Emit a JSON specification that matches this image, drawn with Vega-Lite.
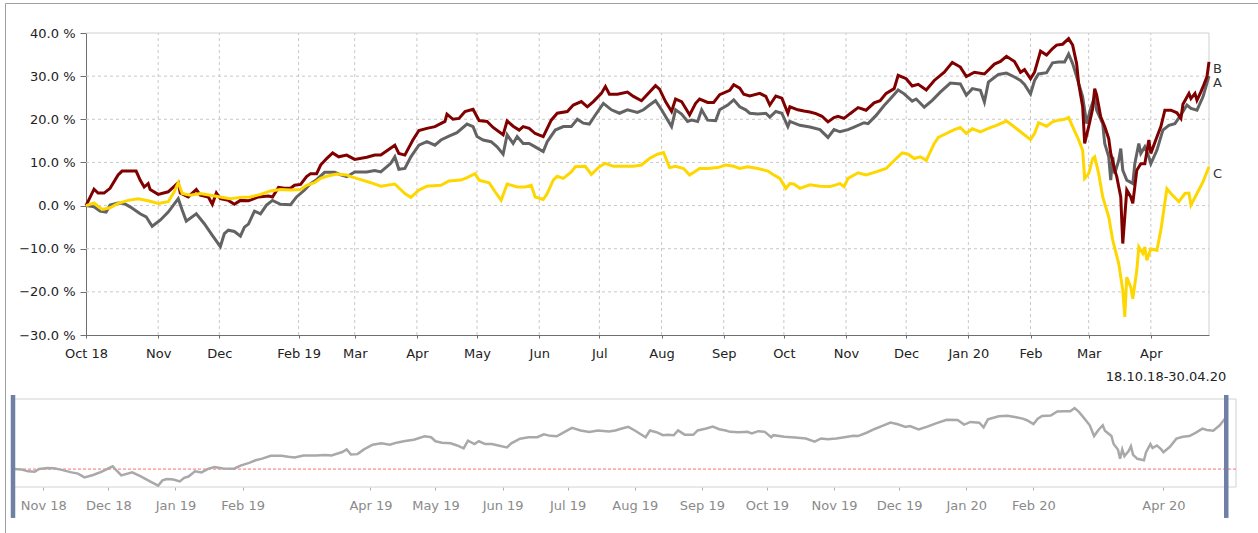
{
  "$schema": "https://vega.github.io/schema/vega-lite/v6.json",
  "width": 1253,
  "height": 530,
  "padding": {"left": 5, "top": 3, "right": 0, "bottom": 0},
  "autosize": {"type": "none"},
  "background": "white",
  "config": {
    "font": "DejaVu Sans",
    "view": {"stroke": "#a0a0a0", "strokeWidth": 1},
    "axis": {"labelFont": "DejaVu Sans", "titleFont": "DejaVu Sans"},
    "text": {"font": "DejaVu Sans"}
  },
  "datasets": {
    "perf": [
      {"d":"2018-10-18","s":"A","v":0},{"d":"2018-10-22","s":"A","v":-0.3},{"d":"2018-10-25","s":"A","v":-1.3},{"d":"2018-10-28","s":"A","v":-1.5},{"d":"2018-10-30","s":"A","v":0.1},{"d":"2018-11-03","s":"A","v":0.6},{"d":"2018-11-06","s":"A","v":0.5},{"d":"2018-11-09","s":"A","v":-0.3},{"d":"2018-11-14","s":"A","v":-1.9},{"d":"2018-11-17","s":"A","v":-2.6},{"d":"2018-11-20","s":"A","v":-4.8},{"d":"2018-11-24","s":"A","v":-3.4},{"d":"2018-11-28","s":"A","v":-1.5},{"d":"2018-12-03","s":"A","v":1.6},{"d":"2018-12-05","s":"A","v":-1.1},{"d":"2018-12-07","s":"A","v":-3.6},{"d":"2018-12-12","s":"A","v":-1.9},{"d":"2018-12-16","s":"A","v":-4.2},{"d":"2018-12-20","s":"A","v":-6.9},{"d":"2018-12-24","s":"A","v":-9.5},{"d":"2018-12-26","s":"A","v":-6.5},{"d":"2018-12-28","s":"A","v":-5.7},{"d":"2018-12-31","s":"A","v":-6.0},
      {"d":"2019-01-03","s":"A","v":-7.1},{"d":"2019-01-05","s":"A","v":-5.0},{"d":"2019-01-07","s":"A","v":-4.3},{"d":"2019-01-10","s":"A","v":-1.3},{"d":"2019-01-13","s":"A","v":-1.9},{"d":"2019-01-16","s":"A","v":0.1},{"d":"2019-01-19","s":"A","v":1.2},{"d":"2019-01-23","s":"A","v":0.3},{"d":"2019-01-28","s":"A","v":0.2},{"d":"2019-01-31","s":"A","v":2.0},{"d":"2019-02-04","s":"A","v":3.6},{"d":"2019-02-07","s":"A","v":5.1},{"d":"2019-02-10","s":"A","v":6.0},{"d":"2019-02-14","s":"A","v":7.7},{"d":"2019-02-19","s":"A","v":7.7},{"d":"2019-02-22","s":"A","v":7.1},{"d":"2019-02-25","s":"A","v":6.7},{"d":"2019-03-01","s":"A","v":7.8},{"d":"2019-03-07","s":"A","v":7.8},{"d":"2019-03-11","s":"A","v":8.1},{"d":"2019-03-14","s":"A","v":7.8},{"d":"2019-03-19","s":"A","v":9.8},{"d":"2019-03-21","s":"A","v":11.3},{"d":"2019-03-23","s":"A","v":8.4},{"d":"2019-03-26","s":"A","v":8.6},{"d":"2019-03-29","s":"A","v":11.3},
      {"d":"2019-04-02","s":"A","v":14.0},{"d":"2019-04-06","s":"A","v":14.8},{"d":"2019-04-10","s":"A","v":14.0},{"d":"2019-04-13","s":"A","v":15.2},{"d":"2019-04-17","s":"A","v":16.1},{"d":"2019-04-21","s":"A","v":16.9},{"d":"2019-04-26","s":"A","v":18.9},{"d":"2019-04-29","s":"A","v":18.3},{"d":"2019-05-01","s":"A","v":16.0},{"d":"2019-05-04","s":"A","v":15.2},{"d":"2019-05-08","s":"A","v":14.8},{"d":"2019-05-11","s":"A","v":13.6},{"d":"2019-05-14","s":"A","v":11.9},{"d":"2019-05-16","s":"A","v":16.4},{"d":"2019-05-19","s":"A","v":14.4},{"d":"2019-05-21","s":"A","v":16.0},{"d":"2019-05-24","s":"A","v":14.4},{"d":"2019-05-27","s":"A","v":14.4},{"d":"2019-05-30","s":"A","v":13.6},{"d":"2019-06-03","s":"A","v":12.5},{"d":"2019-06-05","s":"A","v":14.8},{"d":"2019-06-09","s":"A","v":17.5},{"d":"2019-06-13","s":"A","v":18.3},{"d":"2019-06-17","s":"A","v":18.3},{"d":"2019-06-20","s":"A","v":20.0},{"d":"2019-06-23","s":"A","v":19.1},{"d":"2019-06-26","s":"A","v":18.9},{"d":"2019-06-29","s":"A","v":21.0},
      {"d":"2019-07-03","s":"A","v":23.7},{"d":"2019-07-07","s":"A","v":22.2},{"d":"2019-07-11","s":"A","v":21.4},{"d":"2019-07-15","s":"A","v":22.2},{"d":"2019-07-20","s":"A","v":21.6},{"d":"2019-07-23","s":"A","v":22.2},{"d":"2019-07-26","s":"A","v":23.3},{"d":"2019-07-29","s":"A","v":24.3},{"d":"2019-08-01","s":"A","v":22.2},{"d":"2019-08-06","s":"A","v":18.3},{"d":"2019-08-08","s":"A","v":22.2},{"d":"2019-08-11","s":"A","v":21.2},{"d":"2019-08-14","s":"A","v":19.5},{"d":"2019-08-16","s":"A","v":19.8},{"d":"2019-08-19","s":"A","v":19.5},{"d":"2019-08-21","s":"A","v":22.2},{"d":"2019-08-24","s":"A","v":19.8},{"d":"2019-08-28","s":"A","v":19.7},{"d":"2019-08-30","s":"A","v":22.2},{"d":"2019-09-03","s":"A","v":23.3},{"d":"2019-09-06","s":"A","v":24.5},{"d":"2019-09-09","s":"A","v":22.9},{"d":"2019-09-12","s":"A","v":22.2},{"d":"2019-09-14","s":"A","v":21.4},{"d":"2019-09-18","s":"A","v":21.2},{"d":"2019-09-22","s":"A","v":21.4},{"d":"2019-09-24","s":"A","v":20.5},{"d":"2019-09-27","s":"A","v":21.8},{"d":"2019-09-30","s":"A","v":21.4},
      {"d":"2019-10-03","s":"A","v":18.3},{"d":"2019-10-04","s":"A","v":19.5},{"d":"2019-10-09","s":"A","v":18.6},{"d":"2019-10-14","s":"A","v":18.2},{"d":"2019-10-19","s":"A","v":17.6},{"d":"2019-10-23","s":"A","v":15.8},{"d":"2019-10-26","s":"A","v":17.6},{"d":"2019-10-29","s":"A","v":17.1},{"d":"2019-11-02","s":"A","v":17.6},{"d":"2019-11-05","s":"A","v":18.2},{"d":"2019-11-10","s":"A","v":19.2},{"d":"2019-11-12","s":"A","v":19.0},{"d":"2019-11-16","s":"A","v":20.9},{"d":"2019-11-20","s":"A","v":23.2},{"d":"2019-11-23","s":"A","v":24.7},{"d":"2019-11-27","s":"A","v":26.8},{"d":"2019-11-30","s":"A","v":25.9},{"d":"2019-12-04","s":"A","v":24.2},{"d":"2019-12-06","s":"A","v":24.7},{"d":"2019-12-10","s":"A","v":22.8},{"d":"2019-12-14","s":"A","v":24.4},{"d":"2019-12-18","s":"A","v":26.3},{"d":"2019-12-23","s":"A","v":28.4},{"d":"2019-12-28","s":"A","v":28.2},{"d":"2019-12-31","s":"A","v":25.6},
      {"d":"2020-01-03","s":"A","v":27.1},{"d":"2020-01-07","s":"A","v":26.7},{"d":"2020-01-09","s":"A","v":24.0},{"d":"2020-01-11","s":"A","v":28.6},{"d":"2020-01-16","s":"A","v":30.4},{"d":"2020-01-20","s":"A","v":30.7},{"d":"2020-01-24","s":"A","v":29.8},{"d":"2020-01-27","s":"A","v":29.0},{"d":"2020-01-29","s":"A","v":28.1},{"d":"2020-02-01","s":"A","v":25.9},{"d":"2020-02-03","s":"A","v":29.0},{"d":"2020-02-05","s":"A","v":30.5},{"d":"2020-02-09","s":"A","v":30.8},{"d":"2020-02-12","s":"A","v":33.1},{"d":"2020-02-15","s":"A","v":33.3},{"d":"2020-02-18","s":"A","v":33.3},{"d":"2020-02-20","s":"A","v":35.1},{"d":"2020-02-22","s":"A","v":32.9},{"d":"2020-02-24","s":"A","v":29.9},{"d":"2020-02-27","s":"A","v":25.2},{"d":"2020-02-29","s":"A","v":19.0},{"d":"2020-03-02","s":"A","v":22.5},{"d":"2020-03-04","s":"A","v":25.2},{"d":"2020-03-05","s":"A","v":22.1},{"d":"2020-03-08","s":"A","v":19.0},{"d":"2020-03-09","s":"A","v":14.4},{"d":"2020-03-11","s":"A","v":11.3},{"d":"2020-03-12","s":"A","v":5.9},{"d":"2020-03-13","s":"A","v":11.3},{"d":"2020-03-14","s":"A","v":7.4},{"d":"2020-03-16","s":"A","v":10.5},{"d":"2020-03-17","s":"A","v":13.2},{"d":"2020-03-18","s":"A","v":8.2},{"d":"2020-03-20","s":"A","v":5.9},{"d":"2020-03-23","s":"A","v":5.1},{"d":"2020-03-24","s":"A","v":9.7},{"d":"2020-03-26","s":"A","v":14.4},{"d":"2020-03-27","s":"A","v":12.1},{"d":"2020-03-29","s":"A","v":13.6},{"d":"2020-03-31","s":"A","v":11.3},{"d":"2020-04-01","s":"A","v":9.7},{"d":"2020-04-04","s":"A","v":12.8},{"d":"2020-04-07","s":"A","v":17.5},{"d":"2020-04-10","s":"A","v":18.6},{"d":"2020-04-13","s":"A","v":19.0},{"d":"2020-04-16","s":"A","v":21.0},{"d":"2020-04-19","s":"A","v":23.3},{"d":"2020-04-21","s":"A","v":22.5},{"d":"2020-04-24","s":"A","v":22.1},{"d":"2020-04-27","s":"A","v":25.2},{"d":"2020-04-30","s":"A","v":30.0},

      {"d":"2018-10-18","s":"B","v":0},{"d":"2018-10-22","s":"B","v":3.8},{"d":"2018-10-24","s":"B","v":2.9},{"d":"2018-10-27","s":"B","v":2.9},{"d":"2018-10-30","s":"B","v":4.0},{"d":"2018-11-03","s":"B","v":7.1},{"d":"2018-11-05","s":"B","v":8.0},{"d":"2018-11-12","s":"B","v":8.0},{"d":"2018-11-14","s":"B","v":5.9},{"d":"2018-11-16","s":"B","v":4.3},{"d":"2018-11-18","s":"B","v":5.1},{"d":"2018-11-19","s":"B","v":3.7},{"d":"2018-11-23","s":"B","v":2.6},{"d":"2018-11-28","s":"B","v":3.2},{"d":"2018-12-03","s":"B","v":5.3},{"d":"2018-12-04","s":"B","v":2.9},{"d":"2018-12-08","s":"B","v":2.0},{"d":"2018-12-12","s":"B","v":3.7},{"d":"2018-12-14","s":"B","v":2.4},{"d":"2018-12-18","s":"B","v":2.0},{"d":"2018-12-20","s":"B","v":0.3},{"d":"2018-12-22","s":"B","v":2.9},{"d":"2018-12-24","s":"B","v":1.6},{"d":"2018-12-28","s":"B","v":1.2},{"d":"2018-12-31","s":"B","v":0.3},
      {"d":"2019-01-03","s":"B","v":1.2},{"d":"2019-01-07","s":"B","v":1.1},{"d":"2019-01-12","s":"B","v":2.0},{"d":"2019-01-17","s":"B","v":2.2},{"d":"2019-01-19","s":"B","v":2.0},{"d":"2019-01-22","s":"B","v":4.2},{"d":"2019-01-25","s":"B","v":4.0},{"d":"2019-01-28","s":"B","v":4.0},{"d":"2019-01-30","s":"B","v":4.7},{"d":"2019-02-02","s":"B","v":4.9},{"d":"2019-02-05","s":"B","v":6.7},{"d":"2019-02-07","s":"B","v":7.4},{"d":"2019-02-10","s":"B","v":7.4},{"d":"2019-02-12","s":"B","v":9.4},{"d":"2019-02-15","s":"B","v":10.9},{"d":"2019-02-18","s":"B","v":12.2},{"d":"2019-02-21","s":"B","v":11.3},{"d":"2019-02-25","s":"B","v":11.7},{"d":"2019-03-01","s":"B","v":10.7},{"d":"2019-03-07","s":"B","v":11.2},{"d":"2019-03-11","s":"B","v":11.7},{"d":"2019-03-14","s":"B","v":11.7},{"d":"2019-03-21","s":"B","v":14.0},{"d":"2019-03-23","s":"B","v":12.1},{"d":"2019-03-26","s":"B","v":11.7},{"d":"2019-03-30","s":"B","v":15.2},
      {"d":"2019-04-02","s":"B","v":17.4},{"d":"2019-04-06","s":"B","v":17.9},{"d":"2019-04-10","s":"B","v":18.3},{"d":"2019-04-15","s":"B","v":19.5},{"d":"2019-04-16","s":"B","v":21.2},{"d":"2019-04-19","s":"B","v":20.0},{"d":"2019-04-22","s":"B","v":20.2},{"d":"2019-04-25","s":"B","v":21.8},{"d":"2019-04-29","s":"B","v":22.3},{"d":"2019-05-02","s":"B","v":19.7},{"d":"2019-05-06","s":"B","v":19.5},{"d":"2019-05-09","s":"B","v":18.1},{"d":"2019-05-14","s":"B","v":16.4},{"d":"2019-05-16","s":"B","v":19.6},{"d":"2019-05-19","s":"B","v":18.4},{"d":"2019-05-22","s":"B","v":17.5},{"d":"2019-05-24","s":"B","v":18.3},{"d":"2019-05-27","s":"B","v":17.9},{"d":"2019-05-30","s":"B","v":16.7},{"d":"2019-06-03","s":"B","v":16.0},{"d":"2019-06-07","s":"B","v":19.8},{"d":"2019-06-10","s":"B","v":21.4},{"d":"2019-06-15","s":"B","v":21.8},{"d":"2019-06-18","s":"B","v":23.3},{"d":"2019-06-22","s":"B","v":24.1},{"d":"2019-06-25","s":"B","v":22.9},{"d":"2019-06-28","s":"B","v":24.1},
      {"d":"2019-07-02","s":"B","v":26.0},{"d":"2019-07-04","s":"B","v":27.6},{"d":"2019-07-06","s":"B","v":25.8},{"d":"2019-07-10","s":"B","v":25.8},{"d":"2019-07-15","s":"B","v":26.3},{"d":"2019-07-18","s":"B","v":25.3},{"d":"2019-07-22","s":"B","v":24.3},{"d":"2019-07-25","s":"B","v":25.8},{"d":"2019-07-29","s":"B","v":27.8},{"d":"2019-07-31","s":"B","v":27.0},{"d":"2019-08-03","s":"B","v":24.1},{"d":"2019-08-06","s":"B","v":21.8},{"d":"2019-08-08","s":"B","v":24.7},{"d":"2019-08-11","s":"B","v":24.1},{"d":"2019-08-14","s":"B","v":21.8},{"d":"2019-08-15","s":"B","v":21.0},{"d":"2019-08-18","s":"B","v":23.7},{"d":"2019-08-20","s":"B","v":24.7},{"d":"2019-08-24","s":"B","v":23.9},{"d":"2019-08-27","s":"B","v":23.9},{"d":"2019-08-30","s":"B","v":25.7},{"d":"2019-09-04","s":"B","v":26.7},{"d":"2019-09-06","s":"B","v":28.0},{"d":"2019-09-09","s":"B","v":27.2},{"d":"2019-09-11","s":"B","v":25.8},{"d":"2019-09-14","s":"B","v":25.4},{"d":"2019-09-19","s":"B","v":26.0},{"d":"2019-09-22","s":"B","v":25.3},{"d":"2019-09-24","s":"B","v":23.3},{"d":"2019-09-27","s":"B","v":25.4},{"d":"2019-09-30","s":"B","v":24.9},
      {"d":"2019-10-03","s":"B","v":21.4},{"d":"2019-10-04","s":"B","v":22.9},{"d":"2019-10-08","s":"B","v":22.2},{"d":"2019-10-11","s":"B","v":21.9},{"d":"2019-10-14","s":"B","v":21.7},{"d":"2019-10-17","s":"B","v":21.3},{"d":"2019-10-20","s":"B","v":20.7},{"d":"2019-10-23","s":"B","v":19.4},{"d":"2019-10-26","s":"B","v":20.4},{"d":"2019-10-28","s":"B","v":20.7},{"d":"2019-10-31","s":"B","v":20.2},{"d":"2019-11-03","s":"B","v":21.3},{"d":"2019-11-07","s":"B","v":22.7},{"d":"2019-11-11","s":"B","v":22.1},{"d":"2019-11-15","s":"B","v":23.8},{"d":"2019-11-18","s":"B","v":24.3},{"d":"2019-11-21","s":"B","v":26.0},{"d":"2019-11-25","s":"B","v":27.1},{"d":"2019-11-27","s":"B","v":30.2},{"d":"2019-12-01","s":"B","v":29.4},{"d":"2019-12-04","s":"B","v":27.7},{"d":"2019-12-07","s":"B","v":28.1},{"d":"2019-12-11","s":"B","v":26.8},{"d":"2019-12-15","s":"B","v":29.0},{"d":"2019-12-20","s":"B","v":30.9},{"d":"2019-12-24","s":"B","v":33.2},{"d":"2019-12-28","s":"B","v":32.1},{"d":"2019-12-31","s":"B","v":29.9},
      {"d":"2020-01-04","s":"B","v":30.9},{"d":"2020-01-09","s":"B","v":30.5},{"d":"2020-01-14","s":"B","v":32.8},{"d":"2020-01-17","s":"B","v":33.4},{"d":"2020-01-20","s":"B","v":34.6},{"d":"2020-01-24","s":"B","v":33.4},{"d":"2020-01-27","s":"B","v":30.9},{"d":"2020-01-29","s":"B","v":31.5},{"d":"2020-02-01","s":"B","v":29.4},{"d":"2020-02-03","s":"B","v":30.9},{"d":"2020-02-06","s":"B","v":35.8},{"d":"2020-02-09","s":"B","v":34.9},{"d":"2020-02-12","s":"B","v":36.4},{"d":"2020-02-14","s":"B","v":37.2},{"d":"2020-02-17","s":"B","v":37.4},{"d":"2020-02-20","s":"B","v":38.7},{"d":"2020-02-22","s":"B","v":37.2},{"d":"2020-02-24","s":"B","v":32.9},{"d":"2020-02-25","s":"B","v":28.3},{"d":"2020-02-27","s":"B","v":22.9},{"d":"2020-02-28","s":"B","v":14.4},{"d":"2020-03-01","s":"B","v":18.3},{"d":"2020-03-03","s":"B","v":22.5},{"d":"2020-03-04","s":"B","v":27.1},{"d":"2020-03-05","s":"B","v":25.6},{"d":"2020-03-07","s":"B","v":20.6},{"d":"2020-03-09","s":"B","v":18.3},{"d":"2020-03-11","s":"B","v":15.5},{"d":"2020-03-12","s":"B","v":12.1},{"d":"2020-03-14","s":"B","v":8.2},{"d":"2020-03-15","s":"B","v":6.7},{"d":"2020-03-17","s":"B","v":2.0},{"d":"2020-03-18","s":"B","v":-8.8},{"d":"2020-03-19","s":"B","v":-2.6},{"d":"2020-03-20","s":"B","v":3.6},{"d":"2020-03-22","s":"B","v":2.0},{"d":"2020-03-23","s":"B","v":0.5},{"d":"2020-03-25","s":"B","v":8.2},{"d":"2020-03-27","s":"B","v":9.7},{"d":"2020-03-29","s":"B","v":9.7},{"d":"2020-03-31","s":"B","v":15.2},{"d":"2020-04-01","s":"B","v":12.1},{"d":"2020-04-04","s":"B","v":15.9},{"d":"2020-04-06","s":"B","v":18.3},{"d":"2020-04-08","s":"B","v":22.1},{"d":"2020-04-11","s":"B","v":22.1},{"d":"2020-04-14","s":"B","v":21.5},{"d":"2020-04-16","s":"B","v":20.2},{"d":"2020-04-17","s":"B","v":23.5},{"d":"2020-04-20","s":"B","v":26.0},{"d":"2020-04-21","s":"B","v":24.8},{"d":"2020-04-23","s":"B","v":26.0},{"d":"2020-04-24","s":"B","v":24.4},{"d":"2020-04-26","s":"B","v":26.4},{"d":"2020-04-27","s":"B","v":27.5},{"d":"2020-04-29","s":"B","v":29.9},{"d":"2020-04-30","s":"B","v":33.3},

      {"d":"2018-10-18","s":"C","v":0},{"d":"2018-10-22","s":"C","v":0.6},{"d":"2018-10-26","s":"C","v":-0.9},{"d":"2018-10-30","s":"C","v":-0.5},{"d":"2018-11-03","s":"C","v":0.5},{"d":"2018-11-08","s":"C","v":1.2},{"d":"2018-11-13","s":"C","v":1.6},{"d":"2018-11-18","s":"C","v":1.1},{"d":"2018-11-23","s":"C","v":0.5},{"d":"2018-11-28","s":"C","v":0.9},{"d":"2018-12-01","s":"C","v":3.2},{"d":"2018-12-03","s":"C","v":5.3},{"d":"2018-12-05","s":"C","v":2.8},{"d":"2018-12-09","s":"C","v":2.4},{"d":"2018-12-14","s":"C","v":2.8},{"d":"2018-12-19","s":"C","v":2.4},{"d":"2018-12-24","s":"C","v":2.0},{"d":"2018-12-29","s":"C","v":1.6},
      {"d":"2019-01-03","s":"C","v":1.9},{"d":"2019-01-08","s":"C","v":2.0},{"d":"2019-01-13","s":"C","v":2.6},{"d":"2019-01-18","s":"C","v":3.4},{"d":"2019-01-23","s":"C","v":3.7},{"d":"2019-01-28","s":"C","v":3.6},{"d":"2019-02-02","s":"C","v":3.7},{"d":"2019-02-05","s":"C","v":4.7},{"d":"2019-02-09","s":"C","v":5.3},{"d":"2019-02-12","s":"C","v":6.3},{"d":"2019-02-15","s":"C","v":6.8},{"d":"2019-02-20","s":"C","v":7.3},{"d":"2019-02-25","s":"C","v":7.1},{"d":"2019-02-27","s":"C","v":6.7},{"d":"2019-03-04","s":"C","v":6.0},{"d":"2019-03-09","s":"C","v":5.3},{"d":"2019-03-14","s":"C","v":4.5},{"d":"2019-03-21","s":"C","v":5.0},{"d":"2019-03-26","s":"C","v":2.8},{"d":"2019-03-29","s":"C","v":1.9},
      {"d":"2019-04-02","s":"C","v":3.6},{"d":"2019-04-06","s":"C","v":4.5},{"d":"2019-04-13","s":"C","v":4.7},{"d":"2019-04-17","s":"C","v":5.7},{"d":"2019-04-23","s":"C","v":5.9},{"d":"2019-04-26","s":"C","v":6.5},{"d":"2019-04-30","s":"C","v":7.4},{"d":"2019-05-02","s":"C","v":5.9},{"d":"2019-05-07","s":"C","v":5.3},{"d":"2019-05-10","s":"C","v":3.2},{"d":"2019-05-13","s":"C","v":1.2},{"d":"2019-05-16","s":"C","v":5.0},{"d":"2019-05-21","s":"C","v":4.3},{"d":"2019-05-25","s":"C","v":4.3},{"d":"2019-05-28","s":"C","v":4.7},{"d":"2019-05-30","s":"C","v":2.0},{"d":"2019-06-03","s":"C","v":1.4},{"d":"2019-06-05","s":"C","v":2.8},{"d":"2019-06-08","s":"C","v":5.9},{"d":"2019-06-10","s":"C","v":6.8},{"d":"2019-06-13","s":"C","v":6.3},{"d":"2019-06-17","s":"C","v":7.8},{"d":"2019-06-19","s":"C","v":9.0},{"d":"2019-06-24","s":"C","v":9.1},{"d":"2019-06-27","s":"C","v":7.2},
      {"d":"2019-07-01","s":"C","v":9.0},{"d":"2019-07-04","s":"C","v":9.8},{"d":"2019-07-08","s":"C","v":9.1},{"d":"2019-07-13","s":"C","v":9.1},{"d":"2019-07-18","s":"C","v":9.1},{"d":"2019-07-22","s":"C","v":9.4},{"d":"2019-07-26","s":"C","v":10.9},{"d":"2019-07-30","s":"C","v":11.9},{"d":"2019-08-02","s":"C","v":12.3},{"d":"2019-08-05","s":"C","v":8.8},{"d":"2019-08-08","s":"C","v":9.1},{"d":"2019-08-12","s":"C","v":8.6},{"d":"2019-08-15","s":"C","v":7.1},{"d":"2019-08-20","s":"C","v":8.6},{"d":"2019-08-24","s":"C","v":8.6},{"d":"2019-08-29","s":"C","v":8.8},{"d":"2019-09-02","s":"C","v":9.4},{"d":"2019-09-06","s":"C","v":9.1},{"d":"2019-09-09","s":"C","v":8.6},{"d":"2019-09-13","s":"C","v":9.0},{"d":"2019-09-18","s":"C","v":8.6},{"d":"2019-09-23","s":"C","v":8.0},{"d":"2019-09-26","s":"C","v":7.1},{"d":"2019-09-29","s":"C","v":6.3},
      {"d":"2019-10-02","s":"C","v":4.0},{"d":"2019-10-04","s":"C","v":5.1},{"d":"2019-10-06","s":"C","v":5.0},{"d":"2019-10-09","s":"C","v":4.0},{"d":"2019-10-14","s":"C","v":4.8},{"d":"2019-10-19","s":"C","v":4.5},{"d":"2019-10-24","s":"C","v":4.4},{"d":"2019-10-29","s":"C","v":5.1},{"d":"2019-10-31","s":"C","v":4.4},{"d":"2019-11-02","s":"C","v":6.3},{"d":"2019-11-07","s":"C","v":7.6},{"d":"2019-11-11","s":"C","v":7.1},{"d":"2019-11-16","s":"C","v":7.8},{"d":"2019-11-21","s":"C","v":8.6},{"d":"2019-11-26","s":"C","v":10.9},{"d":"2019-11-29","s":"C","v":12.2},{"d":"2019-12-02","s":"C","v":11.9},{"d":"2019-12-05","s":"C","v":10.9},{"d":"2019-12-08","s":"C","v":11.3},{"d":"2019-12-11","s":"C","v":10.5},{"d":"2019-12-15","s":"C","v":14.4},{"d":"2019-12-17","s":"C","v":15.8},{"d":"2019-12-21","s":"C","v":16.7},{"d":"2019-12-25","s":"C","v":17.6},{"d":"2019-12-28","s":"C","v":18.1},{"d":"2019-12-31","s":"C","v":16.7},
      {"d":"2020-01-03","s":"C","v":17.8},{"d":"2020-01-07","s":"C","v":17.1},{"d":"2020-01-11","s":"C","v":17.9},{"d":"2020-01-15","s":"C","v":18.6},{"d":"2020-01-20","s":"C","v":19.6},{"d":"2020-01-24","s":"C","v":18.2},{"d":"2020-01-27","s":"C","v":17.1},{"d":"2020-02-01","s":"C","v":15.3},{"d":"2020-02-03","s":"C","v":16.7},{"d":"2020-02-05","s":"C","v":19.2},{"d":"2020-02-09","s":"C","v":18.4},{"d":"2020-02-12","s":"C","v":19.4},{"d":"2020-02-15","s":"C","v":19.8},{"d":"2020-02-18","s":"C","v":20.0},{"d":"2020-02-20","s":"C","v":20.4},{"d":"2020-02-22","s":"C","v":18.3},{"d":"2020-02-25","s":"C","v":15.2},{"d":"2020-02-27","s":"C","v":12.8},{"d":"2020-02-28","s":"C","v":6.3},{"d":"2020-03-01","s":"C","v":7.4},{"d":"2020-03-03","s":"C","v":10.9},{"d":"2020-03-04","s":"C","v":11.3},{"d":"2020-03-06","s":"C","v":7.4},{"d":"2020-03-08","s":"C","v":2.0},{"d":"2020-03-11","s":"C","v":-2.6},{"d":"2020-03-13","s":"C","v":-8.0},{"d":"2020-03-16","s":"C","v":-13.5},{"d":"2020-03-18","s":"C","v":-19.6},{"d":"2020-03-19","s":"C","v":-25.8},{"d":"2020-03-20","s":"C","v":-16.6},{"d":"2020-03-22","s":"C","v":-18.9},{"d":"2020-03-23","s":"C","v":-21.6},{"d":"2020-03-25","s":"C","v":-15.0},{"d":"2020-03-26","s":"C","v":-9.6},{"d":"2020-03-28","s":"C","v":-11.1},{"d":"2020-03-29","s":"C","v":-9.6},{"d":"2020-03-30","s":"C","v":-12.7},{"d":"2020-04-01","s":"C","v":-10.0},{"d":"2020-04-04","s":"C","v":-10.4},{"d":"2020-04-06","s":"C","v":-5.7},{"d":"2020-04-09","s":"C","v":3.9},{"d":"2020-04-11","s":"C","v":2.8},{"d":"2020-04-15","s":"C","v":0.9},{"d":"2020-04-18","s":"C","v":2.8},{"d":"2020-04-20","s":"C","v":2.9},{"d":"2020-04-21","s":"C","v":0.1},{"d":"2020-04-24","s":"C","v":2.8},{"d":"2020-04-27","s":"C","v":5.5},{"d":"2020-04-30","s":"C","v":9.0}
    ]
  },
  "resolve": {"scale": {"x": "independent", "y": "independent"}, "axis": {"x": "independent", "y": "independent"}},
  "layer": [
    {
      "layer": [
        {
          "data": {"values": [
            {"t": "2018-11-23"}, {"t": "2018-12-23T12:00:00Z"}, {"t": "2019-02-01"}, {"t": "2019-03-01"}, {"t": "2019-04-01"}, {"t": "2019-05-01"}, {"t": "2019-06-01"}, {"t": "2019-07-01"}, {"t": "2019-08-01"}, {"t": "2019-09-01"}, {"t": "2019-10-01"}, {"t": "2019-11-01"}, {"t": "2019-12-01"}, {"t": "2020-01-01"}, {"t": "2020-02-01"}, {"t": "2020-03-01"}, {"t": "2020-04-01"}
          ]},
          "mark": {"type": "rule", "color": "#c8c8c8", "strokeWidth": 1, "strokeDash": [3, 3]},
          "encoding": {
            "x": {
              "field": "t", "type": "temporal",
              "scale": {"domain": [{"year": 2018, "month": 10, "date": 18, "utc": true}, {"year": 2020, "month": 4, "date": 30, "utc": true}], "range": [81, 1204]},
              "axis": {
                "orient": "bottom", "offset": -198, "grid": false, "title": null,
                "values": [
                  {"year": 2018, "month": 10, "date": 18, "utc": true},
                  {"year": 2018, "month": 11, "date": 23, "utc": true},
                  {"year": 2018, "month": 12, "date": 23, "hours": 12, "utc": true},
                  {"year": 2019, "month": 2, "date": 1, "utc": true},
                  {"year": 2019, "month": 3, "date": 1, "utc": true},
                  {"year": 2019, "month": 4, "date": 1, "utc": true},
                  {"year": 2019, "month": 5, "date": 1, "utc": true},
                  {"year": 2019, "month": 6, "date": 1, "utc": true},
                  {"year": 2019, "month": 7, "date": 1, "utc": true},
                  {"year": 2019, "month": 8, "date": 1, "utc": true},
                  {"year": 2019, "month": 9, "date": 1, "utc": true},
                  {"year": 2019, "month": 10, "date": 1, "utc": true},
                  {"year": 2019, "month": 11, "date": 1, "utc": true},
                  {"year": 2019, "month": 12, "date": 1, "utc": true},
                  {"year": 2020, "month": 1, "date": 1, "utc": true},
                  {"year": 2020, "month": 2, "date": 1, "utc": true},
                  {"year": 2020, "month": 3, "date": 1, "utc": true},
                  {"year": 2020, "month": 4, "date": 1, "utc": true}
                ],
                "labelExpr": "((utcyear(datum.value) == 2018 && utcmonth(datum.value) == 9) || (utcyear(datum.value) == 2019 && utcmonth(datum.value) == 1) || (utcyear(datum.value) == 2020 && utcmonth(datum.value) == 0)) ? utcFormat(datum.value, '%b %y') : utcFormat(datum.value, '%b')",
                "labelFlush": false, "labelOverlap": false, "labelBound": false,
                "tickSize": 3, "labelPadding": 9, "domainColor": "#6e6e6e", "tickColor": "#6e6e6e",
                "labelColor": "#222222", "labelFontSize": 13, "labelFont": "DejaVu Sans"
              }
            },
            "y": {
              "datum": -30, "type": "quantitative",
              "scale": {"domain": [-30, 40], "range": [332, 30], "nice": false, "zero": false},
              "axis": {
                "orient": "left", "offset": -81, "grid": false, "title": null,
                "values": [-30, -20, -10, 0, 10, 20, 30, 40],
                "labelExpr": "format(datum.value, '.1f') + ' %'",
                "tickSize": 6, "labelPadding": 5, "domainColor": "#6e6e6e", "tickColor": "#6e6e6e",
                "labelColor": "#222222", "labelFontSize": 13, "labelFont": "DejaVu Sans", "labelBound": false, "labelFlush": false
              }
            },
            "y2": {"datum": 40}
          }
        },
        {
          "data": {"values": [{"g": -20}, {"g": -10}, {"g": 0}, {"g": 10}, {"g": 20}, {"g": 30}]},
          "mark": {"type": "rule", "color": "#c8c8c8", "strokeWidth": 1, "strokeDash": [3, 3]},
          "encoding": {
            "x": {"datum": {"year": 2018, "month": 10, "date": 18, "utc": true}, "type": "temporal"},
            "x2": {"datum": {"year": 2020, "month": 4, "date": 30, "utc": true}},
            "y": {"field": "g", "type": "quantitative"}
          }
        },
        {
          "data": {"values": [{"g": 40}]},
          "mark": {"type": "rule", "color": "#cfcfcf", "strokeWidth": 1},
          "encoding": {
            "x": {"datum": {"year": 2018, "month": 10, "date": 18, "utc": true}, "type": "temporal"},
            "x2": {"datum": {"year": 2020, "month": 4, "date": 30, "utc": true}},
            "y": {"field": "g", "type": "quantitative"}
          }
        },
        {
          "data": {"values": [{"t": "2020-04-30"}]},
          "mark": {"type": "rule", "color": "#cfcfcf", "strokeWidth": 1},
          "encoding": {
            "x": {"field": "t", "type": "temporal"},
            "y": {"datum": -30, "type": "quantitative"},
            "y2": {"datum": 40}
          }
        },
        {
          "data": {"name": "perf"},
          "transform": [{"filter": "datum.s == 'A'"}],
          "mark": {"type": "line", "color": "#636363", "strokeWidth": 3, "interpolate": "linear"},
          "encoding": {
            "x": {"field": "d", "type": "temporal"},
            "y": {"field": "v", "type": "quantitative"}
          }
        },
        {
          "data": {"name": "perf"},
          "transform": [{"filter": "datum.s == 'B'"}],
          "mark": {"type": "line", "color": "#800000", "strokeWidth": 3},
          "encoding": {
            "x": {"field": "d", "type": "temporal"},
            "y": {"field": "v", "type": "quantitative"}
          }
        },
        {
          "data": {"name": "perf"},
          "transform": [{"filter": "datum.s == 'C'"}],
          "mark": {"type": "line", "color": "#FFD700", "strokeWidth": 3},
          "encoding": {
            "x": {"field": "d", "type": "temporal"},
            "y": {"field": "v", "type": "quantitative"}
          }
        },
        {
          "data": {"name": "perf"},
          "transform": [{"filter": "time(datum.d) == utc(2020, 3, 30)"}],
          "mark": {"type": "text", "align": "left", "baseline": "top", "dx": 4, "dy": 1, "fontSize": 13, "color": "#333333", "font": "DejaVu Sans"},
          "encoding": {
            "x": {"field": "d", "type": "temporal"},
            "y": {"field": "v", "type": "quantitative"},
            "text": {"field": "s"}
          }
        }
      ]
    },
    {
      "layer": [
        {
          "data": {"values": [{"box": "nav"}]},
          "mark": {"type": "rect", "fill": "white", "stroke": "#d2d2d2", "strokeWidth": 1},
          "encoding": {
            "x": {
              "datum": {"year": 2018, "month": 10, "date": 18, "utc": true}, "type": "temporal",
              "scale": {"domain": [{"year": 2018, "month": 10, "date": 18, "utc": true}, {"year": 2020, "month": 5, "date": 4, "hours": 12, "utc": true}], "range": [8, 1231]},
              "axis": {
                "orient": "bottom", "offset": -46, "grid": false, "title": null,
                "values": [
                  {"year": 2018, "month": 11, "date": 1, "utc": true},
                  {"year": 2018, "month": 12, "date": 1, "utc": true},
                  {"year": 2019, "month": 1, "date": 1, "utc": true},
                  {"year": 2019, "month": 2, "date": 1, "utc": true},
                  {"year": 2019, "month": 4, "date": 1, "utc": true},
                  {"year": 2019, "month": 5, "date": 1, "utc": true},
                  {"year": 2019, "month": 6, "date": 1, "utc": true},
                  {"year": 2019, "month": 7, "date": 1, "utc": true},
                  {"year": 2019, "month": 8, "date": 1, "utc": true},
                  {"year": 2019, "month": 9, "date": 1, "utc": true},
                  {"year": 2019, "month": 10, "date": 1, "utc": true},
                  {"year": 2019, "month": 11, "date": 1, "utc": true},
                  {"year": 2019, "month": 12, "date": 1, "utc": true},
                  {"year": 2020, "month": 1, "date": 1, "utc": true},
                  {"year": 2020, "month": 2, "date": 1, "utc": true},
                  {"year": 2020, "month": 4, "date": 1, "utc": true}
                ],
                "labelExpr": "utcFormat(datum.value, '%b %y')",
                "labelFlush": false, "labelOverlap": false, "labelBound": false,
                "tickSize": 3, "labelPadding": 9, "domain": false, "tickColor": "#b0b0b0",
                "labelColor": "#8a8a8a", "labelFontSize": 13, "labelFont": "DejaVu Sans"
              }
            },
            "x2": {"datum": {"year": 2020, "month": 5, "date": 4, "hours": 12, "utc": true}},
            "y": {"datum": -10.3, "type": "quantitative", "scale": {"domain": [-10.3, 40.3], "range": [484, 396], "nice": false, "zero": false}, "axis": null},
            "y2": {"datum": 40.3}
          }
        },
        {
          "data": {"values": [{"zero": 0}]},
          "mark": {"type": "rule", "color": "#ff6e6e", "strokeWidth": 1, "strokeDash": [3, 2]},
          "encoding": {
            "x": {"datum": {"year": 2018, "month": 10, "date": 18, "utc": true}, "type": "temporal"},
            "x2": {"datum": {"year": 2020, "month": 5, "date": 4, "hours": 12, "utc": true}},
            "y": {"field": "zero", "type": "quantitative"}
          }
        },
        {
          "data": {"name": "perf"},
          "transform": [{"filter": "datum.s == 'A'"}],
          "mark": {"type": "line", "color": "#a9a9a9", "strokeWidth": 2.5},
          "encoding": {
            "x": {"field": "d", "type": "temporal"},
            "y": {"field": "v", "type": "quantitative"}
          }
        },
        {
          "data": {"values": [{"t": "2018-10-18"}, {"t": "2020-04-30"}]},
          "mark": {"type": "rule", "color": "#6f7fa6", "strokeWidth": 4.5},
          "encoding": {
            "x": {"field": "t", "type": "temporal"},
            "y": {"datum": -28.1, "type": "quantitative"},
            "y2": {"datum": 42.6}
          }
        },
        {
          "data": {"values": [{"r": "18.10.18-30.04.20"}]},
          "mark": {"type": "text", "align": "right", "baseline": "middle", "fontSize": 13, "color": "#222222", "font": "DejaVu Sans"},
          "encoding": {
            "x": {"datum": {"year": 2020, "month": 4, "date": 30, "utc": true}, "type": "temporal"},
            "y": {"datum": 53, "type": "quantitative"},
            "text": {"field": "r"}
          }
        }
      ]
    }
  ]
}
